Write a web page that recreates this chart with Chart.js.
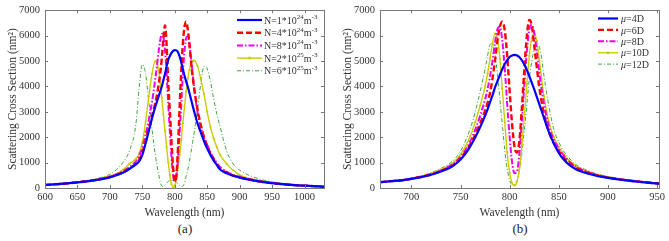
<!DOCTYPE html>
<html>
<head>
<meta charset="utf-8">
<script src="https://cdn.jsdelivr.net/npm/chart.js@4.4.1/dist/chart.umd.min.js"></script>
<style>
  body { margin: 0; background: #fff; width: 669px; height: 241px; overflow: hidden; position: relative; font-family: "Liberation Serif", serif; }
  canvas { position: absolute; top: 0; }
  #chartA { left: 0; }
  #chartB { left: 335px; }
  .cap { position: absolute; top: 221px; font-size: 13px; color: #222; transform: translateX(-50%); }
</style>
</head>
<body>
<canvas id="chartA" width="335" height="220"></canvas>
<canvas id="chartB" width="334" height="220"></canvas>
<div class="cap" style="left:185px">(a)</div>
<div class="cap" style="left:520px">(b)</div>
<script>
// panel (a): carrier density
const waveA = [600, 625, 650, 675, 700, 710, 720, 730, 740, 745, 750, 755, 760, 765, 770, 772.5, 775, 777.5, 780, 782.5,
  785, 787.5, 790, 792.5, 795, 797.5, 800, 802.5, 805, 807.5, 810, 812.5, 815, 817.5, 820, 822.5, 825, 827.5, 830, 835,
  840, 845, 850, 855, 860, 865, 870, 880, 890, 900, 925, 950, 975, 1000, 1030];
const ticksA = [600, 650, 700, 750, 800, 850, 900, 950, 1000];
const labelsA = ['N=1*10^{24}m^{-3}', 'N=4*10^{24}m^{-3}', 'N=8*10^{24}m^{-3}', 'N=2*10^{25}m^{-3}', 'N=6*10^{25}m^{-3}'];
const n1e24 = [120, 160, 220, 300, 420, 500, 600, 750, 930, 1050, 1300, 1750, 2250, 2750, 3200, 3400, 3600, 3800, 4000, 4250,
  4500, 4800, 5050, 5200, 5320, 5400, 5430, 5420, 5350, 5180, 4950, 4680, 4420, 4200, 4000, 3750, 3500, 3250, 3000, 2550,
  2200, 1850, 1550, 1300, 1080, 900, 730, 580, 480, 410, 280, 190, 130, 90, 50];
const n4e24 = [120, 160, 220, 300, 430, 510, 620, 770, 960, 1100, 1400, 1850, 2350, 2850, 3350, 3650, 4050, 4500, 5100, 5900,
  6400, 5600, 4100, 3000, 1800, 800, 250, 500, 1600, 3200, 4600, 5700, 6350, 6550, 6250, 5700, 5000, 4400, 3900, 3100,
  2500, 2000, 1650, 1350, 1120, 920, 760, 600, 490, 420, 285, 190, 130, 90, 50];
const n8e24 = [120, 165, 230, 310, 450, 540, 660, 820, 1050, 1250, 1600, 2100, 2700, 3400, 4300, 4800, 5350, 5800, 6070, 5950,
  5400, 4500, 3300, 2200, 1200, 500, 250, 500, 1200, 2200, 3300, 4500, 5400, 5900, 5980, 5700, 5100, 4500, 3900, 3000,
  2400, 2000, 1700, 1400, 1170, 980, 820, 650, 520, 440, 300, 200, 135, 95, 55];
const n2e25 = [120, 165, 230, 320, 480, 560, 720, 950, 1150, 1350, 1800, 2600, 3600, 4500, 5000, 4950, 4650, 4150, 3550, 2900,
  2250, 1600, 1000, 500, 150, 30, 100, 350, 800, 1300, 1900, 2550, 3200, 3800, 4300, 4650, 4900, 5000, 5020, 4800,
  4300, 3700, 3000, 2400, 1950, 1600, 1300, 950, 700, 520, 320, 210, 140, 90, 55];
const n6e25 = [130, 190, 250, 350, 540, 720, 1000, 1450, 2500, 3900, 4870, 4500, 3400, 2300, 1300, 900, 550, 250, 80, 60,
  120, 200, 260, 290, 300, 290, 260, 220, 160, 100, 60, 70, 200, 450, 700, 1050, 1400, 1800, 2200, 3100,
  4100, 4800, 4700, 4200, 3500, 2900, 2400, 1450, 950, 700, 400, 240, 160, 110, 60];

// panel (b): dipole moment
const waveB = [668, 680, 690, 700, 710, 720, 730, 740, 745, 750, 755, 760, 765, 770, 775, 777.5, 780, 782.5, 785, 787.5,
  790, 792.5, 795, 797.5, 800, 802.5, 805, 807.5, 810, 812.5, 815, 817.5, 820, 822.5, 825, 827.5, 830, 832.5, 835, 840,
  845, 850, 855, 860, 865, 870, 880, 890, 900, 910, 925, 940, 952];
const ticksB = [700, 750, 800, 850, 900, 950];
const labelsB = ['μ=4D', 'μ=6D', 'μ=8D', 'μ=10D', 'μ=12D'];
const mu4 = [230, 270, 300, 360, 430, 520, 650, 820, 950, 1120, 1350, 1650, 2000, 2400, 2850, 3100, 3380, 3650, 3950, 4200,
  4450, 4680, 4880, 5040, 5160, 5220, 5240, 5220, 5150, 5020, 4850, 4650, 4400, 4150, 3880, 3600, 3320, 3040, 2750, 2200,
  1750, 1380, 1120, 930, 790, 690, 560, 470, 400, 340, 270, 210, 170];
const mu6 = [230, 270, 300, 360, 440, 530, 670, 850, 980, 1180, 1420, 1730, 2100, 2550, 3050, 3350, 3750, 4300, 5000, 5800,
  6350, 6550, 6200, 5200, 3800, 2500, 1600, 1400, 1900, 3200, 4700, 6000, 6620, 6400, 5600, 4800, 4000, 3400, 2900, 2200,
  1750, 1450, 1200, 1000, 850, 740, 600, 490, 410, 350, 275, 215, 175];
const mu8 = [230, 280, 310, 370, 450, 550, 690, 880, 1020, 1230, 1500, 1850, 2300, 2850, 3500, 3900, 4400, 5000, 5700, 6250,
  6350, 5800, 4700, 3300, 2000, 1000, 580, 650, 1400, 2700, 4100, 5400, 6250, 6430, 6100, 5400, 4600, 3900, 3300, 2400,
  1900, 1550, 1280, 1070, 900, 780, 620, 500, 420, 360, 280, 220, 180];
const mu10 = [230, 280, 320, 380, 460, 570, 720, 930, 1080, 1320, 1650, 2050, 2600, 3250, 4000, 4500, 5100, 5700, 6080, 5900,
  5100, 3900, 2600, 1400, 600, 180, 100, 250, 800, 1700, 2900, 4100, 5200, 5900, 6100, 5800, 5100, 4300, 3600, 2600,
  2000, 1620, 1330, 1100, 930, 800, 640, 510, 430, 370, 290, 225, 185];
const mu12 = [230, 290, 330, 400, 480, 600, 770, 1000, 1180, 1450, 1850, 2350, 3000, 3800, 4700, 5200, 5650, 5700, 5300, 4500,
  3500, 2500, 1500, 750, 300, 150, 140, 300, 700, 1400, 2300, 3300, 4300, 5000, 5450, 5660, 5600, 5100, 4400, 3200,
  2300, 1800, 1450, 1200, 1000, 860, 680, 540, 450, 380, 300, 230, 190];

const yTicks = [0, 1000, 2000, 3000, 4000, 5000, 6000, 7000];

// line styles, same order in both panels
const styles = [
  { color: '#0000ff', width: 2.2, dash: [] },
  { color: '#ff0000', width: 2.4, dash: [6, 3] },
  { color: '#ee00ee', width: 2, dash: [6, 2, 1.5, 2] },
  { color: '#cccc00', width: 1.4, dash: [], marker: true },
  { color: '#3fa83f', width: 1, dash: [4, 2, 1, 2] }
];

const FONT = '"Liberation Serif", "Times New Roman", serif';
const TEXT = '#333';

// frame with inward tick marks
const boxPlugin = {
  id: 'box',
  afterDraw(chart) {
    const { ctx, chartArea: a, scales } = chart;
    ctx.save();
    ctx.strokeStyle = '#777';
    ctx.lineWidth = 1;
    ctx.strokeRect(Math.round(a.left) + 0.5, Math.round(a.top) + 0.5, Math.round(a.right - a.left), Math.round(a.bottom - a.top));
    ctx.beginPath();
    scales.x.ticks.forEach(t => {
      const px = Math.round(scales.x.getPixelForValue(t.value)) + 0.5;
      ctx.moveTo(px, a.bottom); ctx.lineTo(px, a.bottom - 3);
      ctx.moveTo(px, a.top); ctx.lineTo(px, a.top + 3);
    });
    scales.y.ticks.forEach(t => {
      const py = Math.round(scales.y.getPixelForValue(t.value)) + 0.5;
      ctx.moveTo(a.left, py); ctx.lineTo(a.left + 3, py);
      ctx.moveTo(a.right, py); ctx.lineTo(a.right - 3, py);
    });
    ctx.stroke();
    ctx.restore();
  }
};

// text with ^{..} superscripts and italic mu
function drawRich(ctx, text, x, y) {
  const parts = text.match(/\^\{[^}]*\}|μ|[^\^μ]+/g);
  parts.forEach(p => {
    if (p.startsWith('^{')) {
      const s = p.slice(2, -1);
      ctx.font = `7px ${FONT}`;
      ctx.fillText(s, x, y - 4);
      x += ctx.measureText(s).width;
    } else if (p === 'μ') {
      ctx.font = `italic 10px ${FONT}`;
      ctx.fillText(p, x, y);
      x += ctx.measureText(p).width;
    } else {
      ctx.font = `10px ${FONT}`;
      ctx.fillText(p, x, y);
      x += ctx.measureText(p).width;
    }
  });
}

const legendPlugin = {
  id: 'inlegend',
  afterDraw(chart, args, opts) {
    const { ctx } = chart;
    ctx.save();
    ctx.textBaseline = 'middle';
    chart.data.datasets.forEach((ds, i) => {
      const y = opts.y0 + i * opts.dy;
      ctx.strokeStyle = ds.borderColor;
      ctx.lineWidth = ds.borderWidth;
      ctx.setLineDash(ds.borderDash || []);
      ctx.beginPath();
      ctx.moveTo(opts.x0, y);
      ctx.lineTo(opts.x1, y);
      ctx.stroke();
      ctx.setLineDash([]);
      if (ds.pointRadius > 0) {
        ctx.fillStyle = ds.borderColor;
        ctx.beginPath();
        ctx.arc((opts.x0 + opts.x1) / 2, y, 1.5, 0, Math.PI * 2);
        ctx.fill();
      }
      ctx.fillStyle = TEXT;
      drawRich(ctx, ds.label, opts.tx, y + 1);
    });
    ctx.restore();
  }
};

function makeChart(id, waves, series, labels, xmin, xmax, xTicks, rightPad, legend) {
  const datasets = series.map((vals, i) => {
    const st = styles[i];
    return {
      label: labels[i],
      data: waves.map((w, k) => ({ x: w, y: vals[k] })),
      borderColor: st.color,
      backgroundColor: st.color,
      borderWidth: st.width,
      borderDash: st.dash,
      pointRadius: st.marker ? 1.1 : 0,
      pointBackgroundColor: st.color,
      pointBorderWidth: 0,
      cubicInterpolationMode: 'monotone',
      fill: false,
      order: i
    };
  });

  return new Chart(document.getElementById(id), {
    type: 'line',
    data: { datasets },
    options: {
      responsive: false,
      animation: false,
      layout: { padding: { top: 0, right: rightPad, left: 0, bottom: 0 } },
      plugins: {
        legend: { display: false },
        tooltip: { enabled: false },
        inlegend: legend
      },
      scales: {
        x: {
          type: 'linear',
          min: xmin,
          max: xmax,
          afterBuildTicks: s => { s.ticks = xTicks.map(v => ({ value: v })); },
          afterFit: s => { s.height = 32; },
          grid: { display: false, drawTicks: false },
          border: { display: false },
          ticks: { padding: 3, maxRotation: 0, autoSkip: false, color: TEXT,
                   font: { family: FONT, size: 10.5 }, callback: v => String(Math.round(v)) },
          title: { display: true, text: 'Wavelength (nm)', color: TEXT, font: { family: FONT, size: 11.5 }, padding: { top: 2, bottom: 0 } }
        },
        y: {
          min: 0,
          max: 7000,
          afterBuildTicks: s => { s.ticks = yTicks.map(v => ({ value: v })); },
          afterFit: s => { s.width = 45; },
          grid: { display: false, drawTicks: false },
          border: { display: false },
          ticks: { padding: 5, color: TEXT, font: { family: FONT, size: 10.5, lineHeight: 1 }, callback: v => String(v) },
          title: { display: true, text: 'Scattering Cross Section (nm²)', color: TEXT, font: { family: FONT, size: 11.5 }, padding: { top: 6, bottom: 0 } }
        }
      }
    },
    plugins: [boxPlugin, legendPlugin]
  });
}

makeChart('chartA', waveA, [n1e24, n4e24, n8e24, n2e25, n6e25], labelsA, 600, 1030, ticksA, 11,
  { x0: 237, x1: 262, tx: 264, y0: 20, dy: 12.7 });
makeChart('chartB', waveB, [mu4, mu6, mu8, mu10, mu12], labelsB, 668, 952, ticksB, 10,
  { x0: 263, x1: 283, tx: 286, y0: 18.5, dy: 11.4 });
</script>
</body>
</html>
